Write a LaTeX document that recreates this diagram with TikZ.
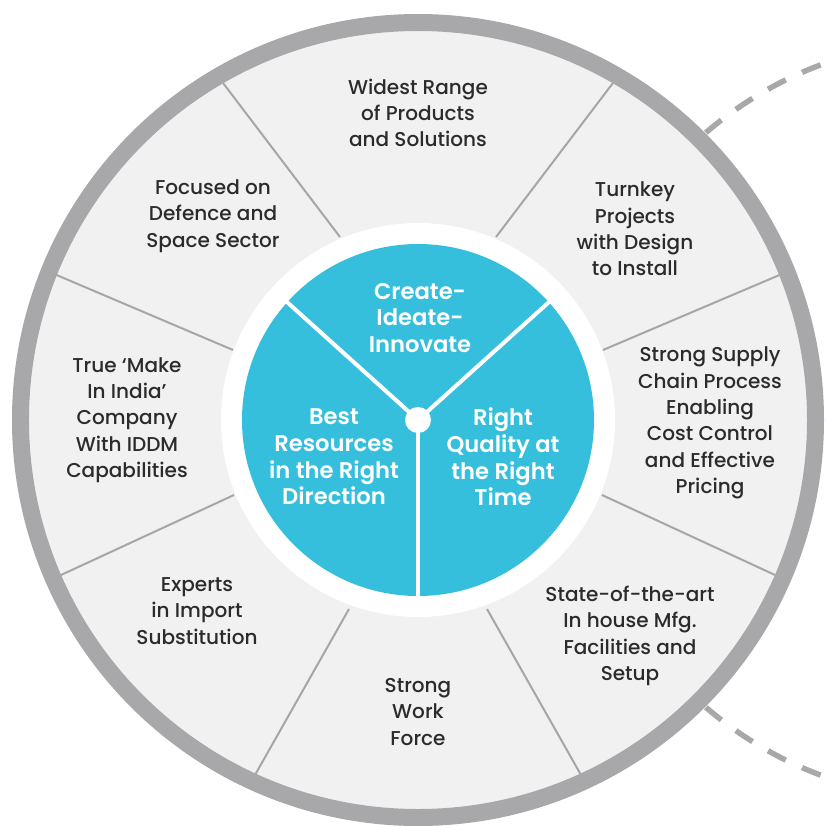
\documentclass[tikz,border=0pt]{standalone}
\usepackage{fontspec}
\setmainfont{Poppins}
\newfontfamily\medfont{Poppins Medium}
\newfontfamily\semifont{Poppins SemiBold}
\definecolor{ringgrey}{HTML}{A8A8AA}
\definecolor{linegrey}{HTML}{A6A6A6}
\definecolor{panel}{HTML}{F1F1F1}
\definecolor{coreblue}{HTML}{36BFDC}
\definecolor{textgrey}{HTML}{2B2B2B}
\tikzset{
  sector/.style={font=\medfont\fontsize{11.4}{15}\selectfont, text=textgrey, align=center},
  core/.style={font=\semifont\fontsize{12.9}{15.2}\selectfont, text=white, align=center},
  divider/.style={draw=linegrey, line width=0.04cm},
  spoke/.style={draw=white, line width=0.08cm},
  orbit/.style={draw=ringgrey, line width=0.11cm, dash pattern=on 0.4cm off 0.36cm},
  hub/.style={circle, fill=white, inner sep=0pt, minimum size=0.52cm}
}

\begin{document}
\begin{tikzpicture}[x=0.02cm, y=0.02cm]
\useasboundingbox (-418,-405) rectangle (409,420);
\clip (-418,-405) rectangle (409,420);

% dashed orbit behind the wheel
\draw[orbit] (535,0) ++(130.7:379) arc[start angle=130.7, end angle=95, radius=379];
\draw[orbit] (535,0) ++(-130.7:379) arc[start angle=-130.7, end angle=-95, radius=379];

% wheel
\fill[panel] (0,0) circle[radius=398];
\foreach \s in {1,-1} {
  \draw[divider] (\s*78,183) -- (\s*198,341);
  \draw[divider] (\s*185,70) -- (\s*365,146.5);
  \draw[divider] (\s*184,-75) -- (\s*362,-157.3);
  \draw[divider] (\s*69,-189) -- (\s*165,-358.5);
}
\draw[ringgrey, line width=0.34cm] (0,0) circle[radius=397.5];
\fill[white] (0,0) circle[radius=197];
\fill[coreblue] (0,0) circle[radius=176];
\foreach \a in {42,138,270}
  \draw[spoke] (0,0) -- (\a:178);
\node[hub] (hub) at (0,0) {};

% outer sectors
\node[sector] (widest) at (0,307) {Widest Range\\of Products\\and Solutions};
\node[sector] (turnkey) at (217,191) {Turnkey\\Projects\\with Design\\to Install};
\node[sector] (supply) at (292,-3) {Strong Supply\\Chain Process\\Enabling\\Cost Control\\and Effective\\Pricing};
\node[sector] (facilities) at (212,-216) {State-of-the-art\\In house Mfg.\\Facilities and\\Setup};
\node[sector] (workforce) at (0,-292) {Strong\\Work\\Force};
\node[sector] (experts) at (-221,-191) {Experts\\in Import\\Substitution};
\node[sector] (makeinindia) at (-291,0) {True ‘Make\\In India’\\Company\\With IDDM\\Capabilities};
\node[sector] (focused) at (-205,204) {Focused on\\Defence and\\Space Sector};

% inner core
\node[core] (create) at (2,102) {Create-\\Ideate-\\Innovate};
\node[core] (resources) at (-84,-37) {Best\\Resources\\in the Right\\Direction};
\node[core] (quality) at (85,-37) {Right\\Quality at\\the Right\\Time};
\end{tikzpicture}
\end{document}
